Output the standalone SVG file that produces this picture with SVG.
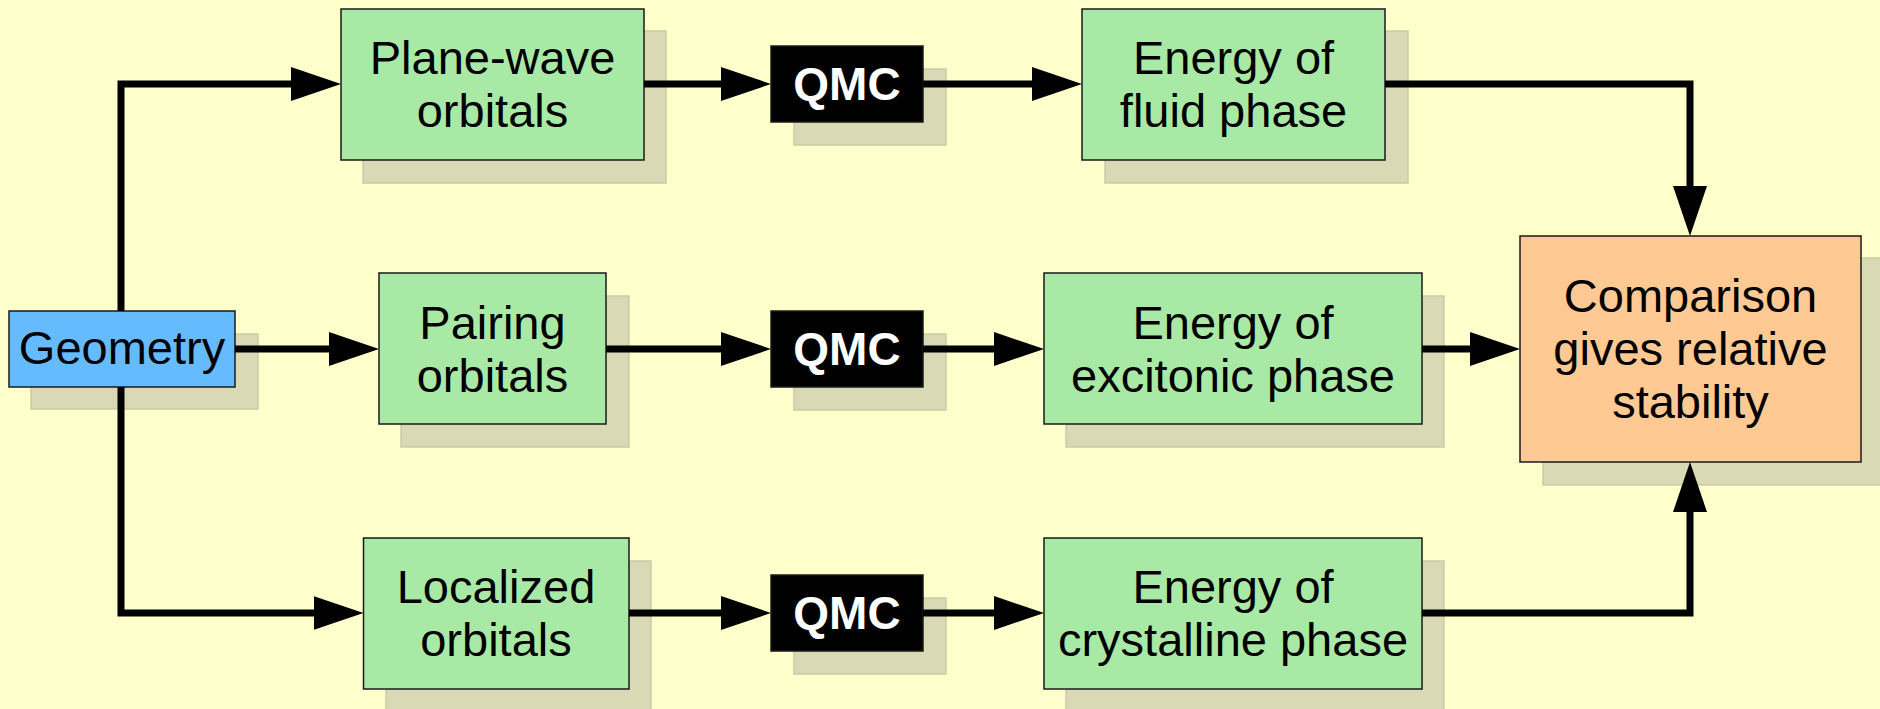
<svg xmlns="http://www.w3.org/2000/svg" width="1880" height="709" viewBox="0 0 1880 709">
<defs>
<style>
.bg{fill:#FFFFCC}
.sh{fill:#D9D9B5;stroke:#CACAA6;stroke-width:1.5}
.box{stroke:#1a1a1a;stroke-width:1.5}
.green{fill:#A9E9A6}
.blue{fill:#66BBFF}
.orange{fill:#FFC993}
.qmc{fill:#000000}
.t{font-family:"Liberation Sans",Arial,sans-serif;font-size:47px;fill:#000;text-anchor:middle}
.tq{font-family:"Liberation Sans",Arial,sans-serif;font-size:46px;font-weight:bold;fill:#fff;text-anchor:middle}
.c{fill:none;stroke:#000;stroke-width:7;stroke-linejoin:miter;marker-end:url(#ah)}
</style>
<marker id="ah" markerUnits="userSpaceOnUse" markerWidth="50" markerHeight="34" viewBox="0 0 50 34" refX="10" refY="17" orient="auto">
<path d="M0,0 L50,17 L0,34 z" fill="#000"/>
</marker>
</defs>
<rect class="bg" x="0" y="0" width="1880" height="709"/>

<g id="geometry">
<rect class="sh" x="31" y="334" width="227" height="75"/>
<rect class="box blue" x="9" y="311" width="226" height="76"/>
<text class="t" x="122" y="364">Geometry</text>
</g>

<g id="planewave">
<rect class="sh" x="363" y="31" width="303" height="152"/>
<rect class="box green" x="341" y="9" width="303" height="151"/>
<text class="t" x="492.5" y="74">Plane-wave</text>
<text class="t" x="492.5" y="127">orbitals</text>
</g>

<g id="pairing">
<rect class="sh" x="401" y="296" width="228" height="151"/>
<rect class="box green" x="379" y="273" width="227" height="151"/>
<text class="t" x="492.5" y="339">Pairing</text>
<text class="t" x="492.5" y="392">orbitals</text>
</g>

<g id="localized">
<rect class="sh" x="386" y="561" width="265" height="151"/>
<rect class="box green" x="363.5" y="538" width="265.5" height="151"/>
<text class="t" x="496" y="603">Localized</text>
<text class="t" x="496" y="656">orbitals</text>
</g>

<g id="qmc1">
<rect class="sh" x="794" y="69" width="152" height="76"/>
<rect class="box qmc" x="771" y="46" width="152" height="76"/>
<text class="tq" x="847" y="100">QMC</text>
</g>

<g id="qmc2">
<rect class="sh" x="794" y="334" width="152" height="76"/>
<rect class="box qmc" x="771" y="311" width="152" height="76"/>
<text class="tq" x="847" y="365">QMC</text>
</g>

<g id="qmc3">
<rect class="sh" x="794" y="598" width="152" height="76"/>
<rect class="box qmc" x="771" y="575" width="152" height="76"/>
<text class="tq" x="847" y="629">QMC</text>
</g>

<g id="fluid">
<rect class="sh" x="1105" y="31" width="303" height="152"/>
<rect class="box green" x="1082" y="9" width="303" height="151"/>
<text class="t" x="1233.5" y="74">Energy of</text>
<text class="t" x="1233.5" y="127">fluid phase</text>
</g>

<g id="excitonic">
<rect class="sh" x="1066" y="296" width="378" height="151"/>
<rect class="box green" x="1044" y="273" width="378" height="151"/>
<text class="t" x="1233" y="339">Energy of</text>
<text class="t" x="1233" y="392">excitonic phase</text>
</g>

<g id="crystalline">
<rect class="sh" x="1066" y="561" width="378" height="151"/>
<rect class="box green" x="1044" y="538" width="378" height="151"/>
<text class="t" x="1233" y="603">Energy of</text>
<text class="t" x="1233" y="656">crystalline phase</text>
</g>

<g id="comparison">
<rect class="sh" x="1543" y="258" width="345" height="227"/>
<rect class="box orange" x="1520" y="236" width="341" height="226"/>
<text class="t" x="1690.5" y="312">Comparison</text>
<text class="t" x="1690.5" y="365">gives relative</text>
<text class="t" x="1690.5" y="418">stability</text>
</g>

<g id="connectors">
<path class="c" d="M121,311 L121,84 L301,84"/>
<path class="c" d="M235,349 L339,349"/>
<path class="c" d="M121,387 L121,613 L323.5,613"/>
<path class="c" d="M644,84 L731,84"/>
<path class="c" d="M606,349 L731,349"/>
<path class="c" d="M629,613 L731,613"/>
<path class="c" d="M923,84 L1042,84"/>
<path class="c" d="M923,349 L1004,349"/>
<path class="c" d="M923,613 L1004,613"/>
<path class="c" d="M1385,84 L1690,84 L1690,196"/>
<path class="c" d="M1422,349 L1480,349"/>
<path class="c" d="M1422,613 L1690,613 L1690,502"/>
</g>
</svg>
